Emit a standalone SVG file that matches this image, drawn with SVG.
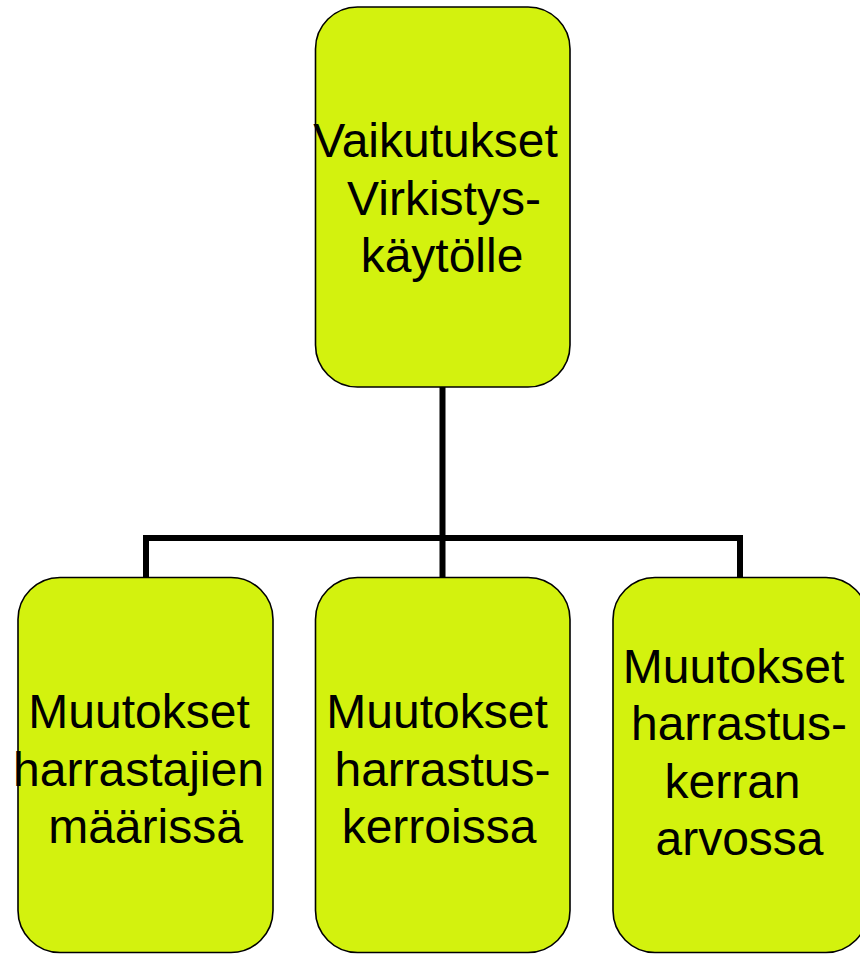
<svg xmlns="http://www.w3.org/2000/svg" width="860" height="954" viewBox="0 0 860 954">
<style>
.box{fill:#D3F20E;stroke:#000;stroke-width:1.6}
.t{font-family:"Liberation Sans",Arial,sans-serif;font-size:48px;fill:#000;text-anchor:middle}
.c{fill:none;stroke:#000;stroke-width:6}
</style>
<rect width="860" height="954" fill="#fff"/>
<g id="connectors">
<path class="c" d="M442.5 387 V538 M146 577.5 V538 H740 V577.5 M442.5 538 V577.5"/>
</g>
<g id="top">
<rect class="box" x="315.5" y="7" width="254.5" height="380" rx="42" ry="42"/>
<text class="t" x="435.5" y="157">Vaikutukset</text>
<text class="t" x="444" y="215">Virkistys-</text>
<text class="t" x="442" y="272">käytölle</text>
</g>
<g id="left">
<rect class="box" x="18" y="577.5" width="255" height="375" rx="42" ry="42"/>
<text class="t" x="139" y="728">Muutokset</text>
<text class="t" x="138.5" y="786">harrastajien</text>
<text class="t" x="145.5" y="843">määrissä</text>
</g>
<g id="middle">
<rect class="box" x="315.5" y="577.5" width="254.5" height="375" rx="42" ry="42"/>
<text class="t" x="437" y="728">Muutokset</text>
<text class="t" x="442.5" y="786">harrastus-</text>
<text class="t" x="439" y="843">kerroissa</text>
</g>
<g id="right">
<rect class="box" x="613" y="577.5" width="255" height="375" rx="42" ry="42"/>
<text class="t" x="733.5" y="683">Muutokset</text>
<text class="t" x="739" y="740">harrastus-</text>
<text class="t" x="732.5" y="798">kerran</text>
<text class="t" x="739.5" y="855">arvossa</text>
</g>
</svg>
